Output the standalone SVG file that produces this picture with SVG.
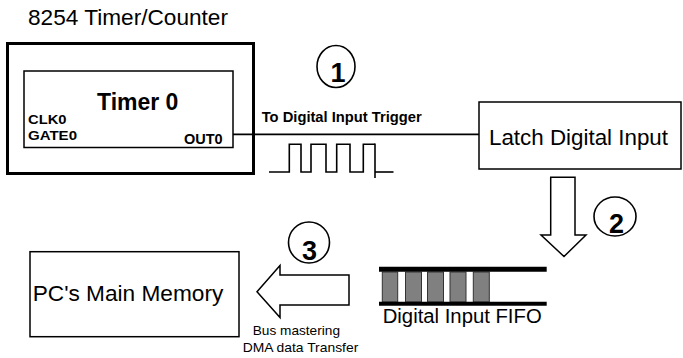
<svg xmlns="http://www.w3.org/2000/svg" width="683" height="358" viewBox="0 0 683 358">
<defs>
<style>
text { font-family: "Liberation Sans", Arial, sans-serif; fill: #000; }
.b { font-weight: bold; }
.box { fill: #fff; stroke: #000; stroke-width: 1.5; }
.num { font-weight: bold; font-size: 27px; text-anchor: middle; }
.circ { fill: none; stroke: #000; stroke-width: 1.6; }
.blk { fill: #808080; stroke: #333; stroke-width: 1; }
.arrow { fill: #fff; stroke: #000; stroke-width: 1.5; stroke-linejoin: miter; }
</style>
</defs>
<rect width="683" height="358" fill="#fff"/>

<g id="timer-counter">
<text x="28" y="25" font-size="22" textLength="200" lengthAdjust="spacingAndGlyphs">8254 Timer/Counter</text>
<rect x="7.5" y="43.5" width="246" height="130" fill="none" stroke="#000" stroke-width="3"/>
</g>

<g id="timer0">
<rect class="box" x="24" y="71" width="209" height="76.5"/>
<text class="b" x="97" y="110" font-size="23">Timer 0</text>
<text class="b" x="28" y="124" font-size="13.5" textLength="38.5" lengthAdjust="spacingAndGlyphs">CLK0</text>
<text class="b" x="28" y="139.6" font-size="13.5" textLength="49" lengthAdjust="spacingAndGlyphs">GATE0</text>
<text class="b" x="184" y="144.3" font-size="14.5">OUT0</text>
</g>

<g id="connectors">
<line x1="233" y1="134.3" x2="479" y2="134.3" stroke="#000" stroke-width="1.8"/>
<text class="b" x="261.7" y="121.7" font-size="14.8" textLength="160" lengthAdjust="spacingAndGlyphs">To Digital Input Trigger</text>
<polyline fill="none" stroke="#000" stroke-width="1.6" points="269,172 289.3,172 289.3,144.3 301,144.3 301,172 311,172 311,144.3 326,144.3 326,172 336.7,172 336.7,144.3 350,144.3 350,172 363.3,172 363.3,144.3 375,144.3"/>
<line x1="375" y1="143.5" x2="375" y2="178" stroke="#000" stroke-width="1.6"/>
<line x1="375" y1="172" x2="393.5" y2="172" stroke="#000" stroke-width="1.6"/>
<polygon class="arrow" points="550.7,177.3 575,177.3 575,235 586,235 564,256.5 541,235 550.7,235"/>
<polygon class="arrow" points="349,275 280,275 280,265.5 257,291.7 280,317.5 280,305 349,305"/>
<text x="252.7" y="335" font-size="13.5" textLength="87.3" lengthAdjust="spacingAndGlyphs">Bus mastering</text>
<text x="242.7" y="351.7" font-size="13.5" textLength="115.6" lengthAdjust="spacingAndGlyphs">DMA data Transfer</text>
</g>

<g id="step1">
<ellipse class="circ" cx="336" cy="66.5" rx="19" ry="21"/>
<text class="num" x="338" y="81.7">1</text>
</g>

<g id="latch">
<rect class="box" x="479" y="102" width="202" height="67"/>
<text x="489" y="145" font-size="22" textLength="179" lengthAdjust="spacingAndGlyphs">Latch Digital Input</text>
</g>

<g id="step2">
<ellipse class="circ" cx="615" cy="216.5" rx="21" ry="19.5"/>
<text class="num" x="616.5" y="233.3">2</text>
</g>

<g id="fifo">
<rect class="blk" x="382.3" y="272" width="15.4" height="30"/>
<rect class="blk" x="405.5" y="272" width="16" height="30"/>
<rect class="blk" x="427.5" y="272" width="16" height="30"/>
<rect class="blk" x="450" y="272" width="16" height="30"/>
<rect class="blk" x="473.3" y="272" width="16" height="30"/>
<line x1="379" y1="269.2" x2="546.7" y2="269.2" stroke="#000" stroke-width="5"/>
<line x1="379" y1="303.7" x2="546.7" y2="303.7" stroke="#000" stroke-width="4"/>
<text x="382.7" y="323.3" font-size="20" textLength="159" lengthAdjust="spacingAndGlyphs">Digital Input FIFO</text>
</g>

<g id="step3">
<ellipse class="circ" cx="309" cy="242.5" rx="20.5" ry="20.5"/>
<text class="num" x="309.5" y="260">3</text>
</g>

<g id="memory">
<rect class="box" x="30" y="251.7" width="209" height="85"/>
<text x="32.7" y="300.7" font-size="21.5" textLength="190.6" lengthAdjust="spacingAndGlyphs">PC's Main Memory</text>
</g>
</svg>
